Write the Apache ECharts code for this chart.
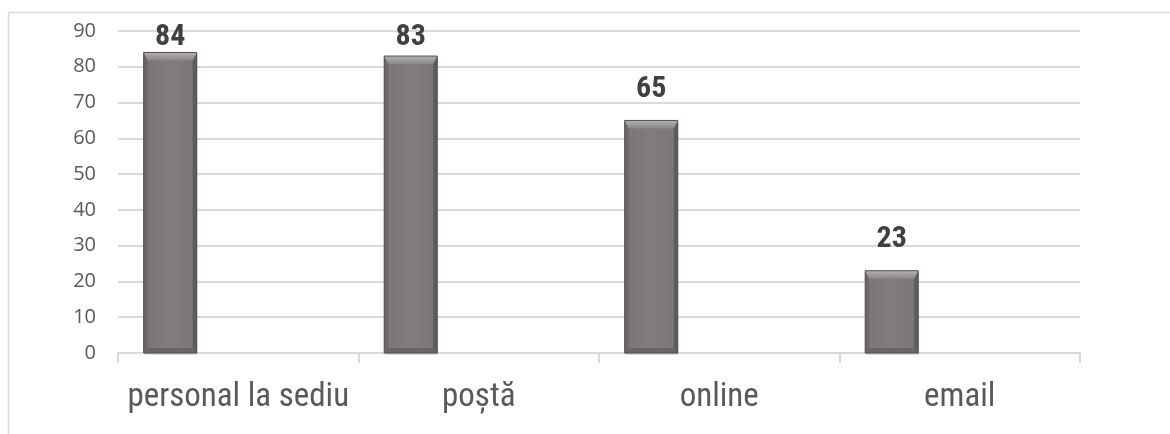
<!DOCTYPE html>
<html><head><meta charset="utf-8">
<style>html,body{margin:0;padding:0;background:#fff}#c{width:1170px;height:434px}</style>
<script src="https://cdn.jsdelivr.net/npm/echarts@6/dist/echarts.min.js"></script>
</head><body><div id="c"></div>
<script>
const categories = ['personal la sediu', 'poștă', 'online', 'email'];
const values = [84, 83, 65, 23];
const yTicks = { min: 0, max: 90, interval: 10 };

const chart = echarts.init(document.getElementById('c'), null, { renderer: 'canvas' });
const narrow = '"Roboto Condensed","Liberation Sans Narrow","DejaVu Sans Condensed",Roboto,sans-serif';

function renderBar(params, api) {
  const idx = api.value(0), v = api.value(1);
  const top = api.coord([idx, v]);
  const base = api.coord([idx, 0]);
  const band = api.size([1, 0])[0];
  const w = 53;
  const cx = top[0] - band * 0.283;
  const x0 = cx - w / 2, x1 = cx + w / 2;
  const yt = top[1], yb = base[1];
  const bt = 8, bs = 4, bb = 5;
  const lin = (x, y, x2, y2, stops) => ({ type: 'linear', x, y, x2, y2, colorStops: stops });
  return {
    type: 'group',
    children: [
      { type: 'rect', shape: { x: x0 + 1, y: yt + 2, width: w, height: yb - yt }, style: { fill: 'rgba(0,0,0,0.12)' }, z2: 0 },
      { type: 'rect', shape: { x: x0, y: yt, width: w, height: yb - yt },
        style: { fill: lin(0, 0, 1, 0, [{ offset: 0, color: '#7a7675' }, { offset: 0.5, color: '#817d7c' }, { offset: 1, color: '#7a7675' }]) }, z2: 1 },
      { type: 'polygon', shape: { points: [[x0, yt], [x0 + bs, yt + bt], [x0 + bs, yb - bb], [x0, yb]] }, style: { fill: '#6c6867' }, z2: 2 },
      { type: 'polygon', shape: { points: [[x1, yt], [x1 - bs, yt + bt], [x1 - bs, yb - bb], [x1, yb]] }, style: { fill: '#5f5b5a' }, z2: 2 },
      { type: 'polygon', shape: { points: [[x0, yb], [x1, yb], [x1 - bs, yb - bb], [x0 + bs, yb - bb]] }, style: { fill: '#6a6665' }, z2: 2 },
      { type: 'polygon', shape: { points: [[x0, yt], [x1, yt], [x1 - bs, yt + bt], [x0 + bs, yt + bt]] },
        style: { fill: lin(0, 0, 0, 1, [{ offset: 0, color: '#b5b1b0' }, { offset: 1, color: '#8b8786' }]) }, z2: 3 },
      { type: 'rect', shape: { x: x0, y: yt, width: w, height: yb - yt }, style: { fill: 'none', stroke: '#55514f', lineWidth: 1 }, z2: 4 },
      { type: 'text', x: cx, y: Math.max(yt - 16, 52),
        style: { text: String(v), fill: '#404040', font: 'bold 30px ' + narrow, align: 'center', verticalAlign: 'bottom' }, z2: 5 }
    ]
  };
}

chart.setOption({
  animation: false,
  backgroundColor: '#fff',
  graphic: [{ type: 'rect', left: 6, top: 10, shape: { width: 1300, height: 600 }, style: { fill: 'none', stroke: '#d9d9d9', lineWidth: 1.5 }, z: -1 }],
  grid: { left: 118, right: 90, top: 31, bottom: 81 },
  xAxis: {
    type: 'category', data: categories,
    axisLine: { lineStyle: { color: '#d9d9d9', width: 2 } },
    axisTick: { show: true, length: 10, lineStyle: { color: '#d9d9d9', width: 2 } },
    axisLabel: { interval: 0, color: '#595959', fontFamily: narrow, fontSize: 33, margin: 28 }
  },
  yAxis: {
    type: 'value', min: yTicks.min, max: yTicks.max, interval: yTicks.interval,
    axisLine: { show: false }, axisTick: { show: false },
    splitLine: { lineStyle: { color: '#d9d9d9', width: 2 } },
    axisLabel: { color: '#595959', fontFamily: '"Open Sans",sans-serif', fontSize: 20, margin: 22 }
  },
  series: [{
    type: 'custom',
    renderItem: renderBar,
    encode: { x: 0, y: 1 },
    data: values.map((v, i) => [i, v]),
    clip: false
  }]
});
</script></body></html>
